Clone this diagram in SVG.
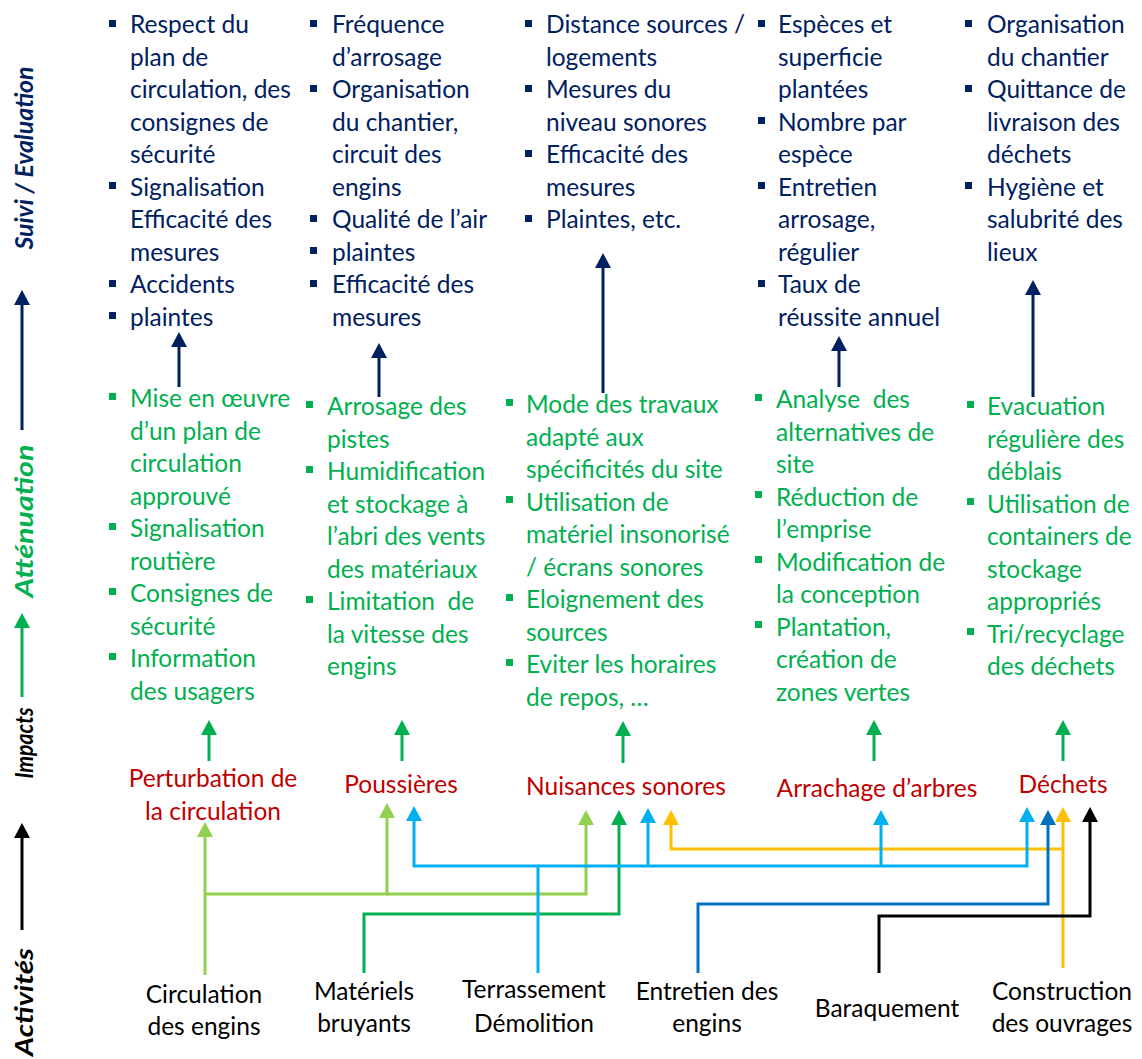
<svg xmlns="http://www.w3.org/2000/svg" width="1142" height="1059" viewBox="0 0 1142 1059">
<style>
text{font-family:Lato,"Open Sans","Liberation Sans",sans-serif}
.nv{fill:#002060;font-size:24.5px}
.gr{fill:#00B050;font-size:24.5px}
.rd{fill:#C00000;font-size:24.5px;text-anchor:middle}
.bk{fill:#000;font-size:24.5px;text-anchor:middle}
.ax{font-size:25px;font-style:italic;font-weight:bold;text-anchor:middle}
.bn{fill:#002060}
.bg{fill:#00B050}
.c{fill:none;stroke-width:3}
</style>
<defs>
<marker id="mNv" markerUnits="userSpaceOnUse" markerWidth="15" markerHeight="16" viewBox="0 -8 15 16" refX="0" refY="0" orient="auto"><path d="M0,-8L15,0L0,8z" fill="#002060"/></marker>
<marker id="mGr" markerUnits="userSpaceOnUse" markerWidth="15" markerHeight="16" viewBox="0 -8 15 16" refX="0" refY="0" orient="auto"><path d="M0,-8L15,0L0,8z" fill="#00B050"/></marker>
<marker id="mLg" markerUnits="userSpaceOnUse" markerWidth="15" markerHeight="16" viewBox="0 -8 15 16" refX="0" refY="0" orient="auto"><path d="M0,-8L15,0L0,8z" fill="#92D050"/></marker>
<marker id="mLb" markerUnits="userSpaceOnUse" markerWidth="15" markerHeight="16" viewBox="0 -8 15 16" refX="0" refY="0" orient="auto"><path d="M0,-8L15,0L0,8z" fill="#00B0F0"/></marker>
<marker id="mDb" markerUnits="userSpaceOnUse" markerWidth="15" markerHeight="16" viewBox="0 -8 15 16" refX="0" refY="0" orient="auto"><path d="M0,-8L15,0L0,8z" fill="#0070C0"/></marker>
<marker id="mYe" markerUnits="userSpaceOnUse" markerWidth="15" markerHeight="16" viewBox="0 -8 15 16" refX="0" refY="0" orient="auto"><path d="M0,-8L15,0L0,8z" fill="#FFC000"/></marker>
<marker id="mBk" markerUnits="userSpaceOnUse" markerWidth="15" markerHeight="16" viewBox="0 -8 15 16" refX="0" refY="0" orient="auto"><path d="M0,-8L15,0L0,8z" fill="#000"/></marker>
<rect id="b" width="7" height="7"/>
</defs>
<rect width="1142" height="1059" fill="#fff"/>

<g id="axis">
<text class="ax" fill="#002060" transform="translate(33,158) rotate(-90)" textLength="183" lengthAdjust="spacingAndGlyphs">Suivi / Evaluation</text>
<text class="ax" fill="#00B050" transform="translate(33,521) rotate(-90)" textLength="153" lengthAdjust="spacingAndGlyphs">Atténuation</text>
<text class="ax" fill="#000" transform="translate(33,743) rotate(-90)" textLength="71" lengthAdjust="spacingAndGlyphs" style="font-size:24px">Impacts</text>
<text class="ax" fill="#000" transform="translate(33,1002) rotate(-90)" textLength="108" lengthAdjust="spacingAndGlyphs">Activités</text>
<path class="c" stroke="#002060" d="M22,430V305" marker-end="url(#mNv)"/>
<path class="c" stroke="#00B050" d="M22,697V628" marker-end="url(#mGr)"/>
<path class="c" stroke="#000" d="M22,930V838" marker-end="url(#mBk)"/>
</g>

<g id="suivi1">
<use href="#b" class="bn" x="109" y="20"/><use href="#b" class="bn" x="109" y="182"/><use href="#b" class="bn" x="109" y="280"/><use href="#b" class="bn" x="109" y="312"/>
<text class="nv" x="130" y="33">Respect du</text>
<text class="nv" x="130" y="65.5">plan de</text>
<text class="nv" x="130" y="98">circulation, des</text>
<text class="nv" x="130" y="130.5">consignes de</text>
<text class="nv" x="130" y="163">sécurité</text>
<text class="nv" x="130" y="195.5">Signalisation</text>
<text class="nv" x="130" y="228">Efficacité des</text>
<text class="nv" x="130" y="260.5">mesures</text>
<text class="nv" x="130" y="293">Accidents</text>
<text class="nv" x="130" y="325.5">plaintes</text>
</g>
<g id="suivi2">
<use href="#b" class="bn" x="310" y="20"/><use href="#b" class="bn" x="310" y="85"/><use href="#b" class="bn" x="310" y="215"/><use href="#b" class="bn" x="310" y="247"/><use href="#b" class="bn" x="310" y="280"/>
<text class="nv" x="332" y="33">Fréquence</text>
<text class="nv" x="332" y="65.5">d’arrosage</text>
<text class="nv" x="332" y="98">Organisation</text>
<text class="nv" x="332" y="130.5">du chantier,</text>
<text class="nv" x="332" y="163">circuit des</text>
<text class="nv" x="332" y="195.5">engins</text>
<text class="nv" x="332" y="228">Qualité de l’air</text>
<text class="nv" x="332" y="260.5">plaintes</text>
<text class="nv" x="332" y="293">Efficacité des</text>
<text class="nv" x="332" y="325.5">mesures</text>
</g>
<g id="suivi3">
<use href="#b" class="bn" x="525" y="20"/><use href="#b" class="bn" x="525" y="85"/><use href="#b" class="bn" x="525" y="150"/><use href="#b" class="bn" x="525" y="215"/>
<text class="nv" x="546" y="33">Distance sources /</text>
<text class="nv" x="546" y="65.5">logements</text>
<text class="nv" x="546" y="98">Mesures du</text>
<text class="nv" x="546" y="130.5">niveau sonores</text>
<text class="nv" x="546" y="163">Efficacité des</text>
<text class="nv" x="546" y="195.5">mesures</text>
<text class="nv" x="546" y="228">Plaintes, etc.</text>
</g>
<g id="suivi4">
<use href="#b" class="bn" x="758" y="20"/><use href="#b" class="bn" x="758" y="117"/><use href="#b" class="bn" x="758" y="182"/><use href="#b" class="bn" x="758" y="280"/>
<text class="nv" x="778" y="33">Espèces et</text>
<text class="nv" x="778" y="65.5">superficie</text>
<text class="nv" x="778" y="98">plantées</text>
<text class="nv" x="778" y="130.5">Nombre par</text>
<text class="nv" x="778" y="163">espèce</text>
<text class="nv" x="778" y="195.5">Entretien</text>
<text class="nv" x="778" y="228">arrosage,</text>
<text class="nv" x="778" y="260.5">régulier</text>
<text class="nv" x="778" y="293">Taux de</text>
<text class="nv" x="778" y="325.5">réussite annuel</text>
</g>
<g id="suivi5">
<use href="#b" class="bn" x="965" y="20"/><use href="#b" class="bn" x="965" y="85"/><use href="#b" class="bn" x="965" y="182"/>
<text class="nv" x="987" y="33">Organisation</text>
<text class="nv" x="987" y="65.5">du chantier</text>
<text class="nv" x="987" y="98">Quittance de</text>
<text class="nv" x="987" y="130.5">livraison des</text>
<text class="nv" x="987" y="163">déchets</text>
<text class="nv" x="987" y="195.5">Hygiène et</text>
<text class="nv" x="987" y="228">salubrité des</text>
<text class="nv" x="987" y="260.5">lieux</text>
</g>

<g id="att1">
<use href="#b" class="bg" x="109" y="393"/><use href="#b" class="bg" x="109" y="523"/><use href="#b" class="bg" x="109" y="588"/><use href="#b" class="bg" x="109" y="653"/>
<text class="gr" x="130" y="407">Mise en œuvre</text>
<text class="gr" x="130" y="439.5">d’un plan de</text>
<text class="gr" x="130" y="472">circulation</text>
<text class="gr" x="130" y="504.5">approuvé</text>
<text class="gr" x="130" y="537">Signalisation</text>
<text class="gr" x="130" y="569.5">routière</text>
<text class="gr" x="130" y="602">Consignes de</text>
<text class="gr" x="130" y="634.5">sécurité</text>
<text class="gr" x="130" y="667">Information</text>
<text class="gr" x="130" y="699.5">des usagers</text>
</g>
<g id="att2">
<use href="#b" class="bg" x="306" y="401"/><use href="#b" class="bg" x="306" y="466"/><use href="#b" class="bg" x="306" y="596"/>
<text class="gr" x="327" y="415">Arrosage des</text>
<text class="gr" x="327" y="447.5">pistes</text>
<text class="gr" x="327" y="480">Humidification</text>
<text class="gr" x="327" y="512.5">et stockage à</text>
<text class="gr" x="327" y="545">l’abri des vents</text>
<text class="gr" x="327" y="577.5">des matériaux</text>
<text class="gr" x="327" y="610" xml:space="preserve">Limitation  de</text>
<text class="gr" x="327" y="642.5">la vitesse des</text>
<text class="gr" x="327" y="675">engins</text>
</g>
<g id="att3">
<use href="#b" class="bg" x="506" y="399"/><use href="#b" class="bg" x="506" y="496"/><use href="#b" class="bg" x="506" y="594"/><use href="#b" class="bg" x="506" y="659"/>
<text class="gr" x="526" y="413">Mode des travaux</text>
<text class="gr" x="526" y="445.5">adapté aux</text>
<text class="gr" x="526" y="478">spécificités du site</text>
<text class="gr" x="526" y="510.5">Utilisation de</text>
<text class="gr" x="526" y="543">matériel insonorisé</text>
<text class="gr" x="526" y="575.5">/ écrans sonores</text>
<text class="gr" x="526" y="608">Eloignement des</text>
<text class="gr" x="526" y="640.5">sources</text>
<text class="gr" x="526" y="673">Eviter les horaires</text>
<text class="gr" x="526" y="705.5">de repos, …</text>
</g>
<g id="att4">
<use href="#b" class="bg" x="755" y="394"/><use href="#b" class="bg" x="755" y="491"/><use href="#b" class="bg" x="755" y="556"/><use href="#b" class="bg" x="755" y="621"/>
<text class="gr" x="776" y="408" xml:space="preserve">Analyse  des</text>
<text class="gr" x="776" y="440.5">alternatives de</text>
<text class="gr" x="776" y="473">site</text>
<text class="gr" x="776" y="505.5">Réduction de</text>
<text class="gr" x="776" y="538">l’emprise</text>
<text class="gr" x="776" y="570.5">Modification de</text>
<text class="gr" x="776" y="603">la conception</text>
<text class="gr" x="776" y="635.5">Plantation,</text>
<text class="gr" x="776" y="668">création de</text>
<text class="gr" x="776" y="700.5">zones vertes</text>
</g>
<g id="att5">
<use href="#b" class="bg" x="967" y="401"/><use href="#b" class="bg" x="967" y="498"/><use href="#b" class="bg" x="967" y="628"/>
<text class="gr" x="987" y="415">Evacuation</text>
<text class="gr" x="987" y="447.5">régulière des</text>
<text class="gr" x="987" y="480">déblais</text>
<text class="gr" x="987" y="512.5">Utilisation de</text>
<text class="gr" x="987" y="545">containers de</text>
<text class="gr" x="987" y="577.5">stockage</text>
<text class="gr" x="987" y="610">appropriés</text>
<text class="gr" x="987" y="642.5">Tri/recyclage</text>
<text class="gr" x="987" y="675">des déchets</text>
</g>

<g id="imp1"><text class="rd" x="213" y="787">Perturbation de</text><text class="rd" x="213" y="820">la circulation</text></g>
<g id="imp2"><text class="rd" x="401" y="793">Poussières</text></g>
<g id="imp3"><text class="rd" x="626" y="795">Nuisances sonores</text></g>
<g id="imp4"><text class="rd" x="877" y="797">Arrachage d’arbres</text></g>
<g id="imp5"><text class="rd" x="1063" y="793">Déchets</text></g>

<g id="act1"><text class="bk" x="204" y="1003">Circulation</text><text class="bk" x="204" y="1035">des engins</text></g>
<g id="act2"><text class="bk" x="364" y="1000">Matériels</text><text class="bk" x="364" y="1032">bruyants</text></g>
<g id="act3"><text class="bk" x="534" y="998">Terrassement</text><text class="bk" x="534" y="1032">Démolition</text></g>
<g id="act4"><text class="bk" x="707" y="1000">Entretien des</text><text class="bk" x="707" y="1032">engins</text></g>
<g id="act5"><text class="bk" x="887" y="1017">Baraquement</text></g>
<g id="act6"><text class="bk" x="1062" y="1000">Construction</text><text class="bk" x="1062" y="1032">des ouvrages</text></g>

<g id="connectors">
<path class="c" stroke="#002060" d="M179,387V347" marker-end="url(#mNv)"/>
<path class="c" stroke="#002060" d="M379,397V358" marker-end="url(#mNv)"/>
<path class="c" stroke="#002060" d="M603,393V268" marker-end="url(#mNv)"/>
<path class="c" stroke="#002060" d="M839,387V351" marker-end="url(#mNv)"/>
<path class="c" stroke="#002060" d="M1033,397V295" marker-end="url(#mNv)"/>
<path class="c" stroke="#00B050" d="M209,761V735" marker-end="url(#mGr)"/>
<path class="c" stroke="#00B050" d="M402,761V735" marker-end="url(#mGr)"/>
<path class="c" stroke="#00B050" d="M623,763V736" marker-end="url(#mGr)"/>
<path class="c" stroke="#00B050" d="M874,761V735" marker-end="url(#mGr)"/>
<path class="c" stroke="#00B050" d="M1063,761V735" marker-end="url(#mGr)"/>
<path class="c" stroke="#92D050" d="M205,975V837" marker-end="url(#mLg)"/>
<path class="c" stroke="#92D050" d="M205,894H387V818" marker-end="url(#mLg)"/>
<path class="c" stroke="#92D050" d="M387,894H586V825" marker-end="url(#mLg)"/>
<path class="c" stroke="#00B050" d="M364,973V914H619V825" marker-end="url(#mGr)"/>
<path class="c" stroke="#FFC000" d="M1063,968V822" marker-end="url(#mYe)"/>
<path class="c" stroke="#FFC000" d="M1063,849H671V825" marker-end="url(#mYe)"/>
<path class="c" stroke="#0070C0" d="M698,973V904H1048V825" marker-end="url(#mDb)"/>
<path class="c" stroke="#000" d="M879,973V916H1090V822" marker-end="url(#mBk)"/>
<path class="c" stroke="#00B0F0" d="M538,973V866H414V821" marker-end="url(#mLb)"/>
<path class="c" stroke="#00B0F0" d="M538,866H1027V822" marker-end="url(#mLb)"/>
<path class="c" stroke="#00B0F0" d="M648,866V823" marker-end="url(#mLb)"/>
<path class="c" stroke="#00B0F0" d="M881,866V825" marker-end="url(#mLb)"/>
</g>
</svg>
